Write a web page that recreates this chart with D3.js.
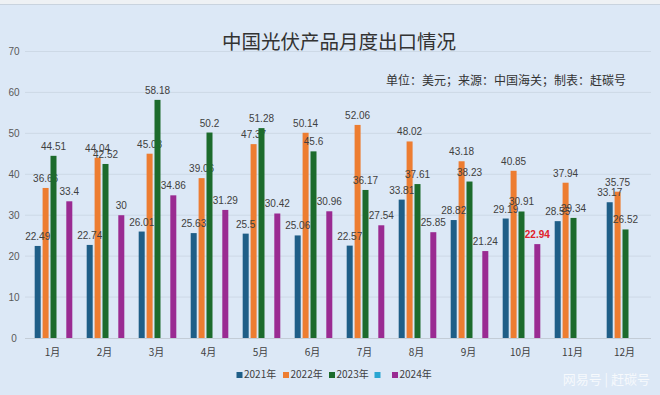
<!DOCTYPE html>
<html>
<head>
<meta charset="utf-8">
<script src="https://cdn.jsdelivr.net/npm/d3@7"></script>
<style>
  html, body { margin: 0; padding: 0; background: #dce8f6; }
  svg { display: block; }
</style>
</head>
<body>
<div id="chart"></div>
<script>
const months = ['1月', '2月', '3月', '4月', '5月', '6月', '7月', '8月', '9月', '10月', '11月', '12月'];
const seriesNames = ['2021年', '2022年', '2023年', '', '2024年'];
const v2021 = [22.49, 22.74, 26.01, 25.63, 25.5, 25.06, 22.57, 33.81, 28.82, 29.19, 28.55, 33.17];
const v2022 = [36.66, 44.04, 45.03, 39.06, 47.37, 50.14, 52.06, 48.02, 43.18, 40.85, 37.94, 35.75];
const v2023 = [44.51, 42.52, 58.18, 50.2, 51.28, 45.6, 36.17, 37.61, 38.23, 30.91, 29.34, 26.52];
const vBlank = [null, null, null, null, null, null, null, null, null, null, null, null];
const v2024 = [33.4, 30, 34.86, 31.29, 30.42, 30.96, 27.54, 25.85, 21.24, 22.94, null, null];
const yTicks = [0, 10, 20, 30, 40, 50, 60, 70];

const colors = ['#1f5e87', '#ed7d31', '#1c6b2c', '#2aa6d2', '#9a2b92'];
const allSeries = [v2021, v2022, v2023, vBlank, v2024];

const width = 660, height = 395;
const svg = d3.select('#chart').append('svg')
  .attr('width', width)
  .attr('height', height);

svg.append('rect').attr('width', width).attr('height', height).attr('fill', '#dce8f6');
// thin strip at the very top (cropped screenshot edge)
svg.append('rect').attr('width', width).attr('height', 4).attr('fill', '#eef1f4');
svg.append('line').attr('x1', 0).attr('x2', width).attr('y1', 4.5).attr('y2', 4.5)
  .attr('stroke', '#c9d3de').attr('stroke-width', 1);

const x = d3.scaleBand().domain(months).range([27.5, 651.5]).paddingInner(0);
const xs = d3.scaleBand().domain(d3.range(seriesNames.length))
  .range([0, x.bandwidth()]).paddingInner(0.24).paddingOuter(0.91);
const y = d3.scaleLinear().domain([0, 70]).range([338, 51.5]);

// gridlines
svg.append('g').selectAll('line')
  .data(yTicks.filter(d => d > 0))
  .enter().append('line')
  .attr('x1', 25).attr('x2', 651)
  .attr('y1', d => y(d)).attr('y2', d => y(d))
  .attr('stroke', '#cdd9e6').attr('stroke-width', 1);

// y tick labels
svg.append('g').selectAll('text')
  .data(yTicks)
  .enter().append('text')
  .attr('x', 14).attr('y', d => y(d) + 3.5)
  .attr('text-anchor', 'middle')
  .style('font-family', '"Liberation Sans", Arial, sans-serif')
  .style('font-size', '10px')
  .style('fill', '#595959')
  .text(d => d);

// baseline
svg.append('line')
  .attr('x1', 25).attr('x2', 651)
  .attr('y1', y(0) + 0.5).attr('y2', y(0) + 0.5)
  .attr('stroke', '#c3ccd6').attr('stroke-width', 1);

function rowsOf(si) {
  return months.map((m, i) => ({ m, v: allSeries[si][i] })).filter(d => d.v != null);
}

function drawBars(si) {
  svg.append('g').selectAll('rect')
    .data(rowsOf(si))
    .enter().append('rect')
    .attr('x', d => x(d.m) + xs(si))
    .attr('y', d => y(d.v))
    .attr('width', xs.bandwidth())
    .attr('height', d => y(0) - y(d.v))
    .attr('fill', colors[si]);
}

function drawLabels(si) {
  const hot = d => si === 4 && d.m === '10月';
  svg.append('g').selectAll('text')
    .data(rowsOf(si))
    .enter().append('text')
    .attr('x', d => x(d.m) + xs(si) + xs.bandwidth() / 2)
    .attr('y', d => y(d.v) - 6)
    .attr('text-anchor', 'middle')
    .style('font-family', '"Liberation Sans", Arial, sans-serif')
    .style('font-size', '10px')
    .style('font-weight', d => hot(d) ? 'bold' : 'normal')
    .style('fill', d => hot(d) ? '#e0202a' : '#404040')
    .text(d => d.v);
}

// same stacking as the original: 2022 labels sit under the 2023 bars
drawBars(0);
drawBars(1);
drawLabels(0);
drawLabels(1);
drawBars(2);
drawBars(4);
drawLabels(2);
drawLabels(4);

// month labels
svg.append('g').selectAll('text')
  .data(months)
  .enter().append('text')
  .attr('x', d => x(d) + x.bandwidth() / 2 - 1)
  .attr('y', 356)
  .attr('text-anchor', 'middle')
  .style('font-family', '"Noto Sans CJK SC", sans-serif')
  .style('font-size', '10px')
  .style('fill', '#404040')
  .text(d => d);

// title
svg.append('text')
  .attr('x', 339).attr('y', 49)
  .attr('text-anchor', 'middle')
  .style('font-family', '"Noto Sans CJK SC", sans-serif')
  .style('font-size', '19.5px')
  .style('fill', '#333')
  .text('中国光伏产品月度出口情况');

svg.append('text')
  .attr('x', 626).attr('y', 85)
  .attr('text-anchor', 'end')
  .style('font-family', '"Noto Sans CJK SC", sans-serif')
  .style('font-size', '12px')
  .style('fill', '#333')
  .text('单位：美元；来源：中国海关；制表：赶碳号');

// legend
const legendX = [236.5, 283, 329, 374.5, 392];
const legend = svg.append('g').selectAll('g')
  .data(seriesNames)
  .enter().append('g')
  .attr('transform', (d, i) => `translate(${legendX[i]}, 378)`);
legend.append('rect')
  .attr('x', 0).attr('y', -6)
  .attr('width', 6).attr('height', 6)
  .attr('fill', (d, i) => colors[i]);
legend.append('text')
  .attr('x', 7.5).attr('y', 0)
  .style('font-family', '"Noto Sans CJK SC", sans-serif')
  .style('font-size', '10px')
  .style('fill', '#404040')
  .text(d => d);

// watermark
svg.append('text')
  .attr('x', 650).attr('y', 384)
  .attr('text-anchor', 'end')
  .style('font-family', '"Noto Sans CJK SC", sans-serif')
  .style('font-size', '13px')
  .style('fill', '#ffffff')
  .style('opacity', 0.75)
  .text('网易号 | 赶碳号');
</script>
</body>
</html>
